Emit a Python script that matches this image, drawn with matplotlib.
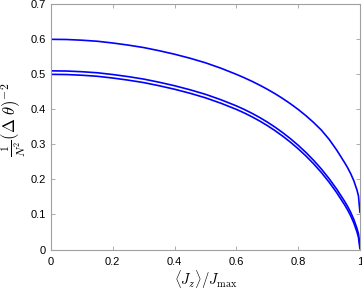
import matplotlib
matplotlib.use("Agg")
import matplotlib.pyplot as plt

plt.rcParams['mathtext.fontset'] = 'cm'
plt.rcParams['font.family'] = ['Liberation Sans', 'DejaVu Sans']

x = [0, 0.05, 0.1, 0.15, 0.2, 0.25, 0.3, 0.35, 0.4, 0.45, 0.5, 0.55, 0.6,
     0.625, 0.65, 0.675, 0.7, 0.725, 0.75, 0.775, 0.8, 0.825, 0.85, 0.875,
     0.9, 0.925, 0.95, 0.96, 0.97, 0.98, 0.99, 0.995, 1.0]
top = [0.600, 0.5995, 0.5975, 0.5945, 0.5895, 0.5835, 0.5765, 0.5675, 0.5575,
       0.546, 0.533, 0.5175, 0.500,
       0.4905, 0.4803, 0.4693, 0.4575, 0.4448, 0.4310, 0.4160, 0.3998, 0.3820,
       0.3625, 0.3408, 0.3146, 0.2833, 0.2483, 0.2333, 0.2163, 0.1963, 0.1703,
       0.1533, 0.104]
middle = [0.510, 0.5095, 0.5075, 0.5045, 0.4995, 0.4935, 0.4865, 0.4775, 0.4675,
          0.456, 0.443, 0.4275, 0.410,
          0.4000, 0.3890, 0.3770, 0.3638, 0.3493, 0.3335, 0.3163, 0.2975,
          0.2770, 0.2545, 0.2298, 0.2023, 0.1718, 0.1378, 0.1228, 0.1058,
          0.0858, 0.0608, 0.0448, 0.012]
lower = [0.500, 0.4995, 0.4975, 0.4945, 0.4895, 0.4835, 0.4765, 0.4675, 0.4575,
         0.446, 0.433, 0.4175, 0.400,
         0.3900, 0.3790, 0.3670, 0.3538, 0.3393, 0.3235, 0.3063, 0.2875,
         0.2670, 0.2445, 0.2198, 0.1923, 0.1618, 0.1278, 0.1128, 0.0958,
         0.0758, 0.0508, 0.0348, 0.000]

xticks = [0, 0.2, 0.4, 0.6, 0.8, 1]
xticklabels = ['0', '0.2', '0.4', '0.6', '0.8', '1']
yticks = [0, 0.1, 0.2, 0.3, 0.4, 0.5, 0.6, 0.7]
yticklabels = ['0', '0.1', '0.2', '0.3', '0.4', '0.5', '0.6', '0.7']

W, H = 362, 289
fig = plt.figure(figsize=(W / 100, H / 100), dpi=100)
ax = fig.add_axes([51 / W, 1 - 249.5 / H, (360 - 51) / W, (249.5 - 4.3) / H])

for y in (top, middle, lower):
    ax.plot(x, y, color='#0000ff', lw=1.2, solid_capstyle='butt',
            solid_joinstyle='round')

ax.set_xlim(0, 1)
ax.set_ylim(0, 0.7)
ax.set_xticks(xticks)
ax.set_xticklabels(xticklabels)
ax.set_yticks(yticks)
ax.set_yticklabels(yticklabels)
ax.tick_params(direction='in', top=True, right=True, length=3, width=0.6,
               color='#a0a0a0', labelsize=8)
ax.tick_params(axis='x', pad=5.5)
ax.tick_params(axis='y', pad=3.5)
for s in ax.spines.values():
    s.set_color('#a0a0a0')
    s.set_linewidth(0.8)

ax.set_xlabel(r'$\langle J_z\rangle/J_{\max}$', fontsize=10.5, labelpad=0.5)
ax.set_ylabel(r'$\frac{1}{N^2}(\Delta\ \theta)^{-2}$', fontsize=12, labelpad=2)
ax.yaxis.label.set_y(0.53)

fig.savefig('out.png', dpi=100)
